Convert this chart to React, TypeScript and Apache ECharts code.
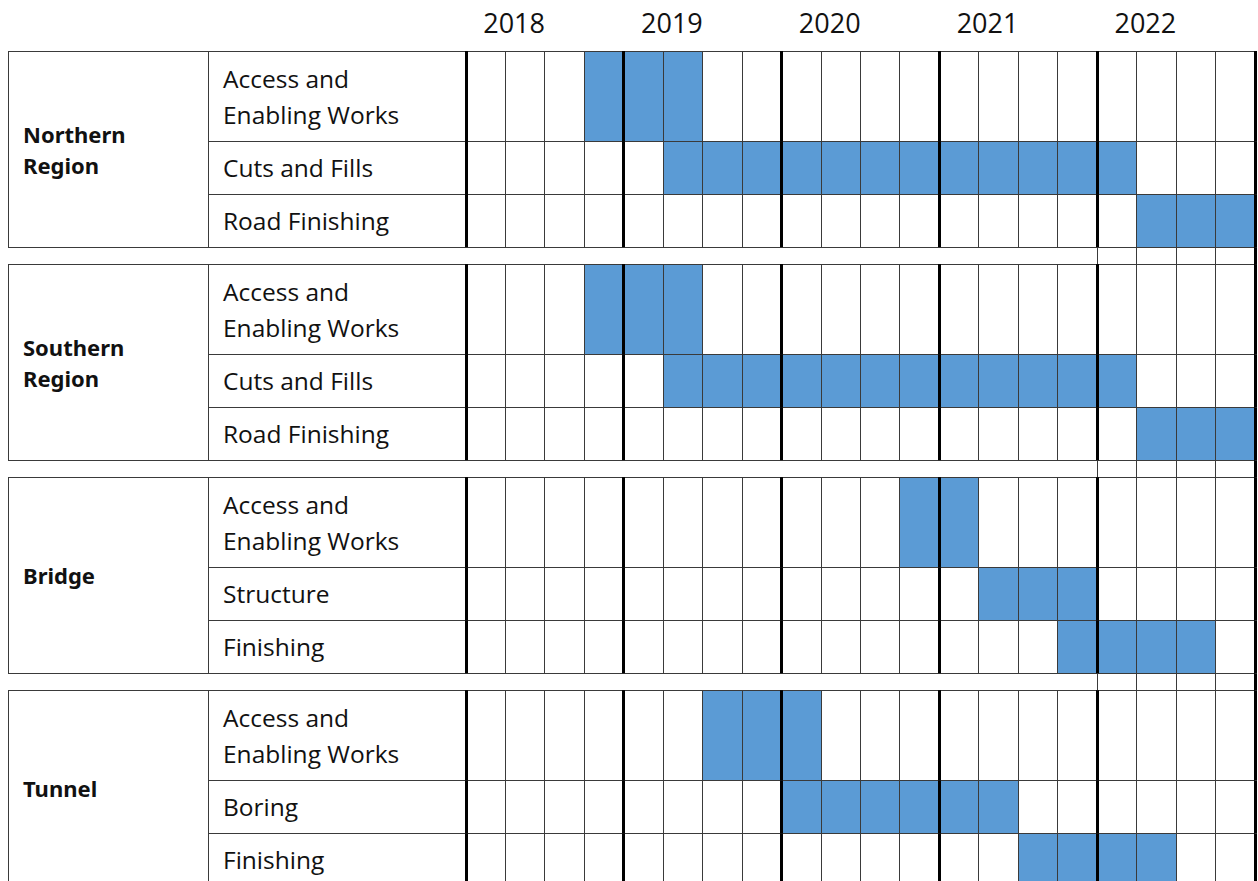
import React, { useEffect, useRef } from 'react';
import * as echarts from 'echarts';

// ---------- data ----------
const YEARS = ['2018', '2019', '2020', '2021', '2022'];
const QUARTERS_PER_YEAR = 4;
const GROUP_LABELS = ['Northern\nRegion', 'Southern\nRegion', 'Bridge', 'Tunnel'];
const TASK_LABELS = [
  ['Access and\nEnabling Works', 'Cuts and Fills', 'Road Finishing'],
  ['Access and\nEnabling Works', 'Cuts and Fills', 'Road Finishing'],
  ['Access and\nEnabling Works', 'Structure', 'Finishing'],
  ['Access and\nEnabling Works', 'Boring', 'Finishing'],
];
// first active quarter (0 = 2018 Q1) and number of active quarters
const TASK_START = [
  [3, 5, 17],
  [3, 5, 17],
  [11, 13, 15],
  [6, 8, 14],
];
const TASK_QUARTERS = [
  [3, 12, 3],
  [3, 12, 3],
  [2, 3, 4],
  [3, 6, 4],
];

// ---------- layout / style ----------
const CHART_W = 1258;
const CHART_H = 881;
const ROW_UNITS = [1.7, 1, 1];
const GAP_UNITS = 0.32;
const UNIT_PX = 53;
const GRID_TOP = 51;
const GRID_LEFT = 466;
const GRID_RIGHT = 3;
const GROUP_COL_X = 8;
const TASK_COL_X = 208;
const TEXT_PAD = 15;
const YEAR_LABEL_SHIFT_Q = 1.22;
const YEAR_LABEL_Y = 22.5;
const BLUE = '#5B9BD5';
const THIN = '#3a3a3a';
const THICK = '#000000';
const TEXT = '#111111';
const FONT = '"Open Sans", "Noto Sans", sans-serif';
const BOLD_FONT = '"Noto Sans", "Open Sans", sans-serif';

const NQ = YEARS.length * QUARTERS_PER_YEAR;
const GROUP_UNITS = ROW_UNITS.reduce((a, b) => a + b, 0);
// visible vertical extent of the grid, in row units (last row runs past the page edge)
const VISIBLE_UNITS = (CHART_H - GRID_TOP) / UNIT_PX;

function groupTop(g: number) {
  return g * (GROUP_UNITS + GAP_UNITS);
}
function rowSpan(g: number, t: number): [number, number] {
  const top = groupTop(g) + ROW_UNITS.slice(0, t).reduce((a, b) => a + b, 0);
  return [top, top + ROW_UNITS[t]];
}
function crisp(v: number, w: number) {
  return w % 2 === 1 ? Math.round(v - 0.5) + 0.5 : Math.round(v);
}
function seg(x1: number, y1: number, x2: number, y2: number, color: string, w: number) {
  if (x1 === x2) {
    x1 = x2 = crisp(x1, w);
  }
  if (y1 === y2) {
    y1 = y2 = crisp(y1, w);
  }
  return {
    type: 'line',
    shape: { x1, y1, x2, y2 },
    style: { stroke: color, lineWidth: w },
  };
}

const rowData: number[][] = [];
GROUP_LABELS.forEach((_, g) =>
  TASK_LABELS[g].forEach((__, t) => rowData.push([TASK_START[g][t], TASK_QUARTERS[g][t], g, t]))
);

function buildOption() {
  return {
    animation: false,
    backgroundColor: '#ffffff',
    grid: {
      left: GRID_LEFT,
      right: GRID_RIGHT,
      top: GRID_TOP,
      bottom: 0,
      containLabel: false,
    },
    xAxis: { type: 'value', min: 0, max: NQ, show: false },
    yAxis: { type: 'value', min: 0, max: VISIBLE_UNITS, inverse: true, show: false },
    series: [
      {
        type: 'custom',
        name: 'fills',
        z: 1,
        silent: true,
        data: rowData,
        renderItem: (params: any, api: any) => {
          const s = api.value(0);
          const d = api.value(1);
          const g = api.value(2);
          const t = api.value(3);
          const [top, bot] = rowSpan(g, t);
          const p0 = api.coord([s, top]);
          const p1 = api.coord([s + d, bot]);
          return {
            type: 'rect',
            shape: { x: p0[0], y: p0[1], width: p1[0] - p0[0], height: p1[1] - p0[1] },
            style: { fill: BLUE },
          };
        },
      },
      {
        type: 'custom',
        name: 'rows',
        z: 2,
        silent: true,
        data: rowData,
        renderItem: (params: any, api: any) => {
          const g = api.value(2);
          const t = api.value(3);
          const [top, bot] = rowSpan(g, t);
          const yT = api.coord([0, top])[1];
          const yB = api.coord([0, bot])[1];
          const xEnd = api.coord([NQ, 0])[0];
          const children: any[] = [];
          children.push(seg(t === 0 ? GROUP_COL_X : TASK_COL_X, yT, xEnd, yT, THIN, 1));
          children.push(
            seg(t === ROW_UNITS.length - 1 ? GROUP_COL_X : TASK_COL_X, yB, xEnd, yB, THIN, 1)
          );
          children.push(seg(TASK_COL_X, yT, TASK_COL_X, yB, THIN, 1));
          for (let q = 0; q <= NQ; q++) {
            const x = api.coord([q, 0])[0];
            const thick = q % QUARTERS_PER_YEAR === 0;
            children.push(seg(x, yT, x, yB, thick ? THICK : THIN, thick ? 3 : 1));
          }
          children.push({
            type: 'text',
            style: {
              x: TASK_COL_X + TEXT_PAD,
              y: (yT + yB) / 2,
              text: TASK_LABELS[g][t],
              fill: TEXT,
              fontSize: 24.5,
              fontFamily: FONT,
              align: 'left',
              verticalAlign: 'middle',
              lineHeight: 36,
            },
          });
          return { type: 'group', children };
        },
      },
      {
        type: 'custom',
        name: 'groups',
        z: 3,
        silent: true,
        data: GROUP_LABELS.map((_, g) => [0, g]),
        renderItem: (params: any, api: any) => {
          const g = api.value(1);
          const yT = api.coord([0, groupTop(g)])[1];
          const yB = api.coord([0, groupTop(g) + GROUP_UNITS])[1];
          return {
            type: 'group',
            children: [
              seg(GROUP_COL_X, yT, GROUP_COL_X, yB, THIN, 1),
              {
                type: 'text',
                style: {
                  x: GROUP_COL_X + TEXT_PAD,
                  y: (yT + yB) / 2,
                  text: GROUP_LABELS[g],
                  fill: TEXT,
                  fontSize: 22,
                  fontWeight: 'bold',
                  fontFamily: BOLD_FONT,
                  align: 'left',
                  verticalAlign: 'middle',
                  lineHeight: 31,
                },
              },
            ],
          };
        },
      },
      {
        type: 'custom',
        name: 'gaps',
        z: 2,
        silent: true,
        data: GROUP_LABELS.slice(1).map((_, g) => [0, g]),
        renderItem: (params: any, api: any) => {
          const g = api.value(1);
          const yT = api.coord([0, groupTop(g) + GROUP_UNITS])[1];
          const yB = api.coord([0, groupTop(g + 1)])[1];
          const children: any[] = [];
          for (let q = NQ - QUARTERS_PER_YEAR; q <= NQ; q++) {
            const x = api.coord([q, 0])[0];
            const thick = q === NQ;
            children.push(seg(x, yT, x, yB, thick ? THICK : THIN, thick ? 3 : 1));
          }
          return { type: 'group', children };
        },
      },
      {
        type: 'custom',
        name: 'years',
        z: 3,
        silent: true,
        data: YEARS.map((_, i) => [i * QUARTERS_PER_YEAR, 0]),
        renderItem: (params: any, api: any) => {
          const i = params.dataIndex;
          const x = api.coord([api.value(0) + YEAR_LABEL_SHIFT_Q, 0])[0];
          return {
            type: 'text',
            style: {
              x,
              y: YEAR_LABEL_Y,
              text: YEARS[i],
              fill: TEXT,
              fontSize: 27,
              fontFamily: FONT,
              align: 'center',
              verticalAlign: 'middle',
            },
          };
        },
      },
    ],
  };
}

export default function App() {
  const ref = useRef<HTMLDivElement>(null);
  useEffect(() => {
    if (!ref.current) return;
    const chart = echarts.init(ref.current, null, { renderer: 'svg' });
    chart.setOption(buildOption() as any);
    return () => chart.dispose();
  }, []);
  return (
    <div
      ref={ref}
      style={{
        position: 'fixed',
        left: 0,
        top: 0,
        width: CHART_W,
        height: CHART_H,
        background: '#ffffff',
      }}
    />
  );
}
